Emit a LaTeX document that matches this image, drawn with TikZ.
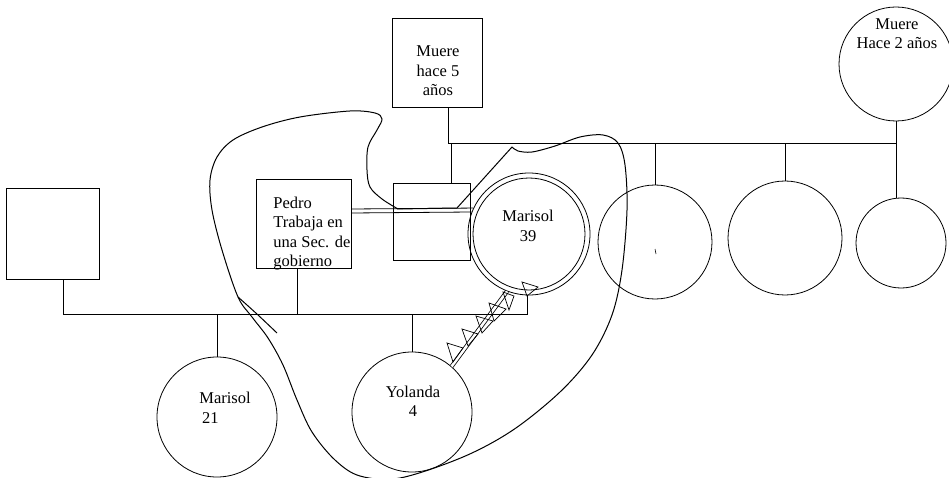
\documentclass[tikz,border=0pt]{standalone}
\usepackage{fontspec}
\setmainfont{Liberation Serif}
\begin{document}
\begin{tikzpicture}[x=1pt,y=-1pt, line width=0.8pt,
  box/.style={draw, rectangle, inner sep=0pt},
  person/.style={draw, circle, inner sep=0pt},
  lbl/.style={font=\fontsize{16.5}{19.5}\selectfont, inner sep=0pt, align=center},
  bound/.style={line width=1pt},
  tri/.style={line width=0.7pt}]
\fill[white] (0,0) rectangle (949,478);
\useasboundingbox (0,0) rectangle (949,478);

% boxes
\node[box, minimum width=93pt, minimum height=91pt] (lbox) at (52.5,233.5) {};
\node[box, minimum width=95pt, minimum height=89pt] (pedro) at (303.5,223.5) {};
\node[lbl, align=left, anchor=west] (pedrotxt) at (273,233.5) {Pedro\\Trabaja en\\una Sec. de\\gobierno};
\node[box, minimum width=90pt, minimum height=89pt] (m5) at (437,62.5) {};
\node[lbl] (m5txt) at (438,71) {Muere\\hace 5\\años};
\node[box, minimum width=77pt, minimum height=77pt] (cbox) at (431.5,221.5) {};

% circles
\node[person, minimum size=122pt] (m39o) at (529,234) {};
\node[person, minimum size=112pt] (m39i) at (529,234) {};
\node[lbl] (m39txt) at (528,226) {Marisol\\39};
\node[person, minimum size=120pt] (m21) at (217,417) {};
\node[lbl, align=left] (m21txt) at (225,408) {Marisol\\\,21};
\node[person, minimum size=120pt] (yol) at (412,412) {};
\node[lbl] (yoltxt) at (413,401.5) {Yolanda\\4};
\node[person, minimum size=114pt] (c1) at (655,242) {};
\node[person, minimum size=114pt] (c2) at (785,238) {};
\node[person, minimum size=90pt] (c3) at (901,243) {};
\node[person, minimum size=114pt] (m2) at (896,64) {};
\node[lbl] (m2txt) at (897,33.5) {Muere\\Hace 2 años};

% lower family line
\coordinate (hr) at (527,314);
\draw[double, double distance=2.6pt, line width=0.8pt] (yol.49) -- (m39o.249);
\draw ([xshift=10.5pt]lbox.south) |- (hr) -- (hr |- m39o.south);
\draw (m21.north) -- (m21.north |- hr);
\draw ([xshift=-6.5pt]pedro.south) -- ([xshift=-6.5pt]pedro.south |- hr);
\draw (yol.north) -- (yol.north |- hr);

% upper sibship line
\coordinate (sibL) at (448,143);
\coordinate (sibR) at (896,143);
\draw ([xshift=11pt]m5.south) -- (sibL) -- (sibR);
\draw ([xshift=19.5pt]cbox.north) -- ([xshift=19.5pt]cbox.north |- sibL);
\draw (c1.north) -- (c1.north |- sibL);
\draw (c2.north) -- (c2.north |- sibL);
\draw (m2.south) -- (m2.south |- c3.north);

% close relationship double line
\draw ([yshift=14.5pt]pedro.east) -- (m39o.155.8);
\draw ([yshift=10.5pt]pedro.east) -- (m39o.159.9);

% conflict triangles
\draw[tri] (447,343) -- (463,348) -- (453,362) -- cycle;
\draw[tri] (462,329) -- (478,334) -- (468,346) -- cycle;
\draw[tri] (476,316) -- (493,321) -- (482,333) -- cycle;
\draw[tri] (489,303) -- (506,309) -- (494,321) -- cycle;
\draw[tri] (503,292) -- (514,296) -- (509,310) -- cycle;
\draw[tri] (522,282) -- (538,287) -- (527,296) -- cycle;

% household boundary
\draw[bound] plot[smooth, tension=0.55] coordinates {(398,209) (382,199) (370,187) (367,170) (368,147) (377,130) (382,119) (375,113) (350,111) (300,117) (262,127) (233,140) (217,157) (210,180) (212,210) (222,250) (238,297) (252,317) (268,338) (283,365) (297,400) (312,432) (335,460) (360,476) (400,478) (463,457) (513,430) (560,392) (592,355) (612,315) (622,270) (627,210) (625,165) (618,143) (603,135) (580,137) (555,146) (532,152) (518,151) (512,147)} -- (457,208) -- cycle;
\draw[bound] (238,297) .. controls (256,313) .. (277,333);

% small mark
\draw[line width=0.6pt] (655,249) -- (656,254);
\end{tikzpicture}
\end{document}
